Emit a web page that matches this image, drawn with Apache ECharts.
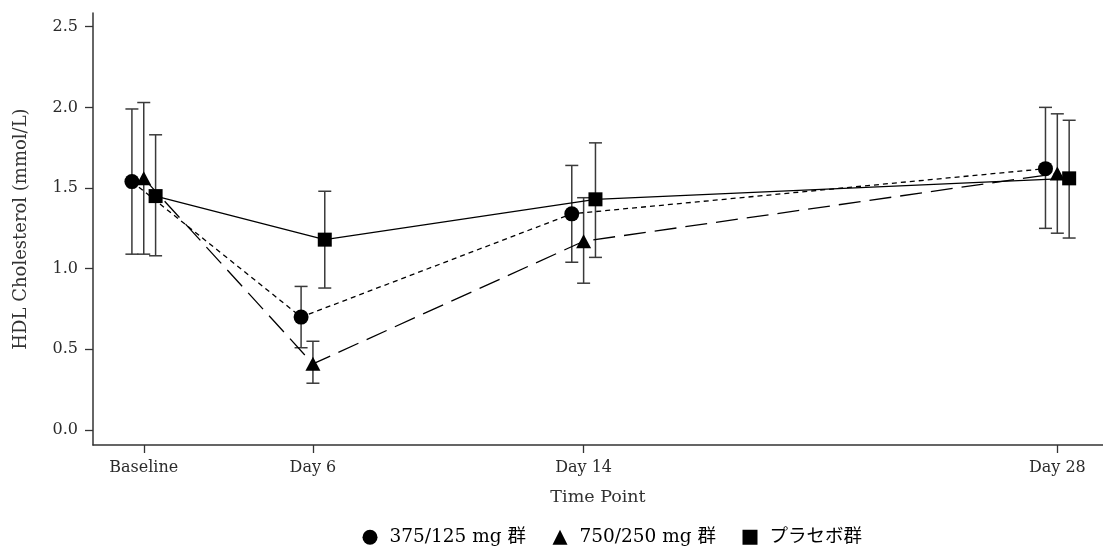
<!DOCTYPE html>
<html>
<head>
<meta charset="utf-8">
<script src="https://cdn.jsdelivr.net/npm/echarts@6/dist/echarts.min.js"></script>
<style>
  html, body { margin: 0; padding: 0; background: #fff; }
  #chart { width: 1103px; height: 548px; }
</style>
</head>
<body>
<div id="chart"></div>
<script>
// Study days of each visit and their axis labels
const timeDays = [1, 6, 14, 28];
const timeLabels = ['Baseline', 'Day 6', 'Day 14', 'Day 28'];

// Treatment groups
const groupNames = ['375/125 mg 群', '750/250 mg 群', 'プラセボ群'];

// Mean HDL cholesterol (mmol/L) with lower / upper error bar limits
const mean375 = [1.54, 0.70, 1.34, 1.62];
const low375  = [1.09, 0.51, 1.04, 1.25];
const high375 = [1.99, 0.89, 1.64, 2.00];

const mean750 = [1.56, 0.41, 1.17, 1.59];
const low750  = [1.09, 0.29, 0.91, 1.22];
const high750 = [2.03, 0.55, 1.44, 1.96];

const meanPbo = [1.45, 1.18, 1.43, 1.56];
const lowPbo  = [1.08, 0.88, 1.07, 1.19];
const highPbo = [1.83, 1.48, 1.78, 1.92];

// Y-axis tick values
const yTicks = [0.0, 0.5, 1.0, 1.5, 2.0, 2.5];

const FONT = "'DejaVu Serif', 'Noto Sans CJK JP', serif";

const groups = [
  { name: groupNames[0], mean: mean375, low: low375, high: high375, shift: -0.35,
    symbol: 'circle', symbolSize: 15, lineType: [5, 4] },
  { name: groupNames[1], mean: mean750, low: low750, high: high750, shift: 0,
    symbol: 'triangle', symbolSize: [15, 14], lineType: [22, 9] },
  { name: groupNames[2], mean: meanPbo, low: lowPbo, high: highPbo, shift: 0.35,
    symbol: 'rect', symbolSize: 14, lineType: 'solid' }
];

const labelOf = {};
timeDays.forEach((d, i) => { labelOf[d] = timeLabels[i]; });

function errorBarRender(params, api) {
  const x = api.value(0);
  const lo = api.coord([x, api.value(1)]);
  const hi = api.coord([x, api.value(2)]);
  const cap = 6.5;
  const style = { stroke: '#3a3a3a', lineWidth: 1.5 };
  return {
    type: 'group',
    children: [
      { type: 'line', shape: { x1: lo[0], y1: lo[1], x2: hi[0], y2: hi[1] }, style },
      { type: 'line', shape: { x1: hi[0] - cap, y1: hi[1], x2: hi[0] + cap, y2: hi[1] }, style },
      { type: 'line', shape: { x1: lo[0] - cap, y1: lo[1], x2: lo[0] + cap, y2: lo[1] }, style }
    ]
  };
}

const series = [];
groups.forEach(g => {
  series.push({
    type: 'custom',
    name: g.name + ' (SD)',
    renderItem: errorBarRender,
    data: timeDays.map((d, i) => [d + g.shift, g.low[i], g.high[i]]),
    encode: { x: 0, y: [1, 2] },
    silent: true,
    z: 1
  });
});
groups.forEach(g => {
  series.push({
    type: 'line',
    name: g.name,
    data: timeDays.map((d, i) => [d + g.shift, g.mean[i]]),
    symbol: g.symbol,
    symbolSize: g.symbolSize,
    showAllSymbol: true,
    itemStyle: { color: '#000', opacity: 1 },
    lineStyle: { color: '#000', width: 1.3, type: g.lineType },
    emphasis: { disabled: true },
    z: 3
  });
});

const chart = echarts.init(document.getElementById('chart'), null, { renderer: 'canvas' });
chart.setOption({
  animation: false,
  backgroundColor: '#fff',
  grid: { left: 93, right: 0, top: 13, bottom: 103, containLabel: false },
  xAxis: {
    type: 'value',
    min: -0.5,
    max: 29.35,
    name: 'Time Point',
    nameLocation: 'middle',
    nameGap: 44,
    nameTextStyle: { fontFamily: FONT, fontSize: 17.5, color: '#333' },
    axisLine: { onZero: false, lineStyle: { color: '#333', width: 1.5 } },
    axisTick: { show: true, length: 8, lineStyle: { color: '#333', width: 1.3 }, customValues: timeDays },
    axisLabel: {
      customValues: timeDays,
      formatter: v => labelOf[v] || '',
      fontFamily: FONT, fontSize: 16, color: '#2b2b2b', margin: 15
    },
    splitLine: { show: false }
  },
  yAxis: {
    type: 'value',
    min: -0.093,
    max: 2.585,
    name: 'HDL Cholesterol (mmol/L)',
    nameLocation: 'middle',
    nameGap: 63,
    nameTextStyle: { fontFamily: FONT, fontSize: 18, color: '#333' },
    axisLine: { show: true, onZero: false, lineStyle: { color: '#333', width: 1.5 } },
    axisTick: { show: true, length: 8, lineStyle: { color: '#333', width: 1.3 }, customValues: yTicks },
    axisLabel: {
      customValues: yTicks,
      formatter: v => v.toFixed(1),
      fontFamily: FONT, fontSize: 16, color: '#2b2b2b', margin: 15
    },
    splitLine: { show: false }
  },
  legend: {
    left: 357.5,
    top: 523,
    itemGap: 26.5,
    itemWidth: 15,
    itemHeight: 15,
    textStyle: { fontFamily: FONT, fontSize: 18.5, color: '#000', padding: [0, 0, 0, 7] },
    data: [
      { name: groupNames[0], icon: 'circle' },
      { name: groupNames[1], icon: 'triangle' },
      { name: groupNames[2], icon: 'rect' }
    ],
    selectedMode: false
  },
  series
});
</script>
</body>
</html>
